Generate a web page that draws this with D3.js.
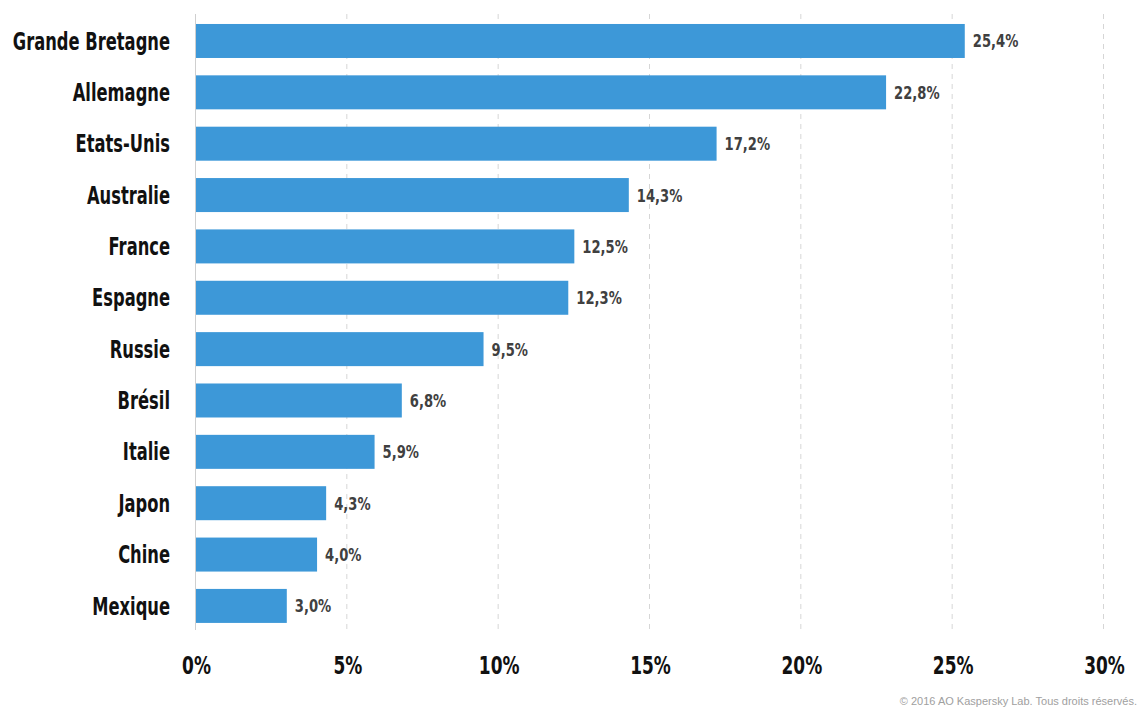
<!DOCTYPE html>
<html>
<head>
<meta charset="utf-8">
<script src="https://cdnjs.cloudflare.com/ajax/libs/d3/7.8.5/d3.min.js"></script>
<style>
  body { margin: 0; background: #fff; }
  svg { display: block; }
</style>
</head>
<body>
<div id="chart"></div>
<script>
// data
var countries = ["Grande Bretagne", "Allemagne", "Etats-Unis", "Australie", "France", "Espagne",
                 "Russie", "Brésil", "Italie", "Japon", "Chine", "Mexique"];
var values = [25.4, 22.8, 17.2, 14.3, 12.5, 12.3, 9.5, 6.8, 5.9, 4.3, 4.0, 3.0];
var ticks = [0, 5, 10, 15, 20, 25, 30];
var credit = "© 2016 AO Kaspersky Lab. Tous droits réservés.";

var W = 1146, H = 715;
// no condensed font is installed, so squeeze DejaVu horizontally
var font = "'DejaVu Sans', sans-serif";

var svg = d3.select("#chart").append("svg").attr("width", W).attr("height", H);

var x = d3.scaleLinear().domain([0, 30]).range([196, 1104]);
var y = d3.scaleBand().domain(countries).range([15.3, 631.6])
    .paddingInner(0.338).paddingOuter(0.169);

var rows = countries.map(function(c, i) { return {name: c, value: values[i]}; });

// grid
svg.append("g").selectAll("line").data(ticks).enter().append("line")
    .attr("x1", function(d) { return x(d) - 0.5; })
    .attr("x2", function(d) { return x(d) - 0.5; })
    .attr("y1", 14).attr("y2", 630)
    .attr("stroke", function(d) { return d === 0 ? "#cfcfcf" : "#d6d6d6"; })
    .attr("stroke-width", 1)
    .attr("stroke-dasharray", function(d) { return d === 0 ? null : "5,5"; });

// bars
svg.append("g").selectAll("rect").data(rows).enter().append("rect")
    .attr("x", x(0))
    .attr("y", function(d) { return y(d.name); })
    .attr("width", function(d) { return x(d.value) - x(0); })
    .attr("height", y.bandwidth())
    .attr("fill", "#3d98d8");

// value labels
svg.append("g").selectAll("text").data(rows).enter().append("text")
    .attr("transform", function(d) {
        return "translate(" + (x(d.value) + 8) + "," + (y(d.name) + y.bandwidth() / 2) + ") scale(0.73,1)";
    })
    .attr("dy", "0.36em")
    .attr("font-family", font).attr("font-weight", "bold").attr("font-size", 18)
    .attr("fill", "#404040")
    .text(function(d) { return d.value.toFixed(1).replace(".", ",") + "%"; });

// category labels
svg.append("g").selectAll("text").data(rows).enter().append("text")
    .attr("transform", function(d) {
        return "translate(170," + (y(d.name) + y.bandwidth() / 2) + ") scale(0.68,1)";
    })
    .attr("dy", "0.36em")
    .attr("text-anchor", "end")
    .attr("font-family", font).attr("font-weight", "bold").attr("font-size", 24)
    .attr("fill", "#111")
    .text(function(d) { return d.name; });

// x axis labels
var xAxis = d3.axisBottom(x).tickValues(ticks).tickSize(0).tickPadding(0)
    .tickFormat(function(d) { return d + "%"; });
var ax = svg.append("g").attr("transform", "translate(0,656)").call(xAxis);
ax.select(".domain").remove();
ax.selectAll("text")
    .attr("transform", "scale(0.68,1)")
    .attr("font-family", font).attr("font-weight", "bold").attr("font-size", 25)
    .attr("fill", "#111");

// footer
svg.append("text")
    .attr("x", 1137).attr("y", 705)
    .attr("text-anchor", "end")
    .attr("font-family", "'Liberation Sans', Arial, sans-serif").attr("font-size", 11)
    .attr("fill", "#a0a0a0")
    .text(credit);
</script>
</body>
</html>
